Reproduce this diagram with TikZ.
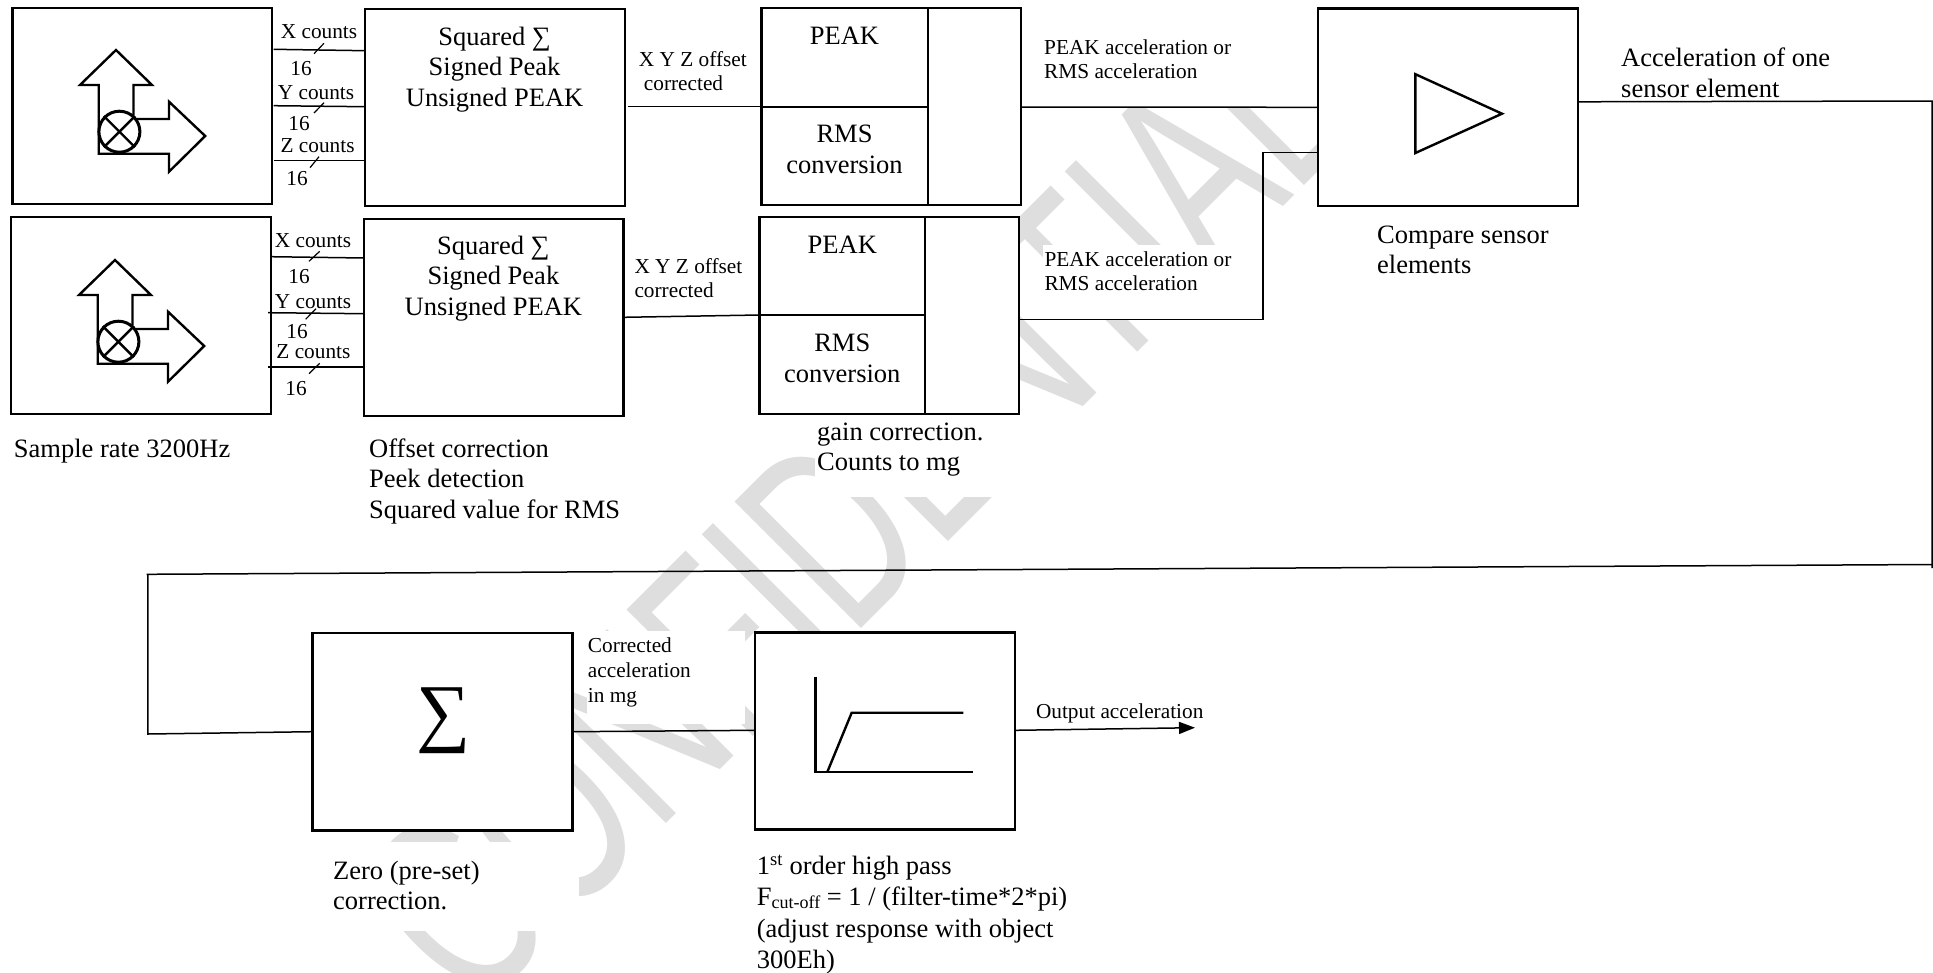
\documentclass[tikz,border=0pt]{standalone}
\usepackage{fontspec}
\usepackage{graphicx}
\usetikzlibrary{arrows.meta}
\setmainfont{Liberation Serif}
\newfontfamily\wmfont{Liberation Sans}
\newcommand{\pxbox}[6][]{%
  \pgfmathsetmacro{\bw}{#5-#3}\pgfmathsetmacro{\bh}{#6-#4}%
  \pgfmathsetmacro{\bx}{(#5+#3)/2}\pgfmathsetmacro{\by}{(#6+#4)/2}%
  \node[blockbox,minimum width=\bw pt,minimum height=\bh pt,#1] (#2) at (\bx,\by) {};}
\definecolor{wmgray}{HTML}{DEDEDE}
\tikzset{
  x=1pt,y=-1pt,
  blockbox/.style={draw=black,line width=2.4pt,fill=white,inner sep=0pt,outer sep=0pt},
  icon/.style={draw=black,line width=2.4pt,line join=miter},
  conn/.style={draw=black,line width=1.5pt},
  divider/.style={draw=black,line width=2pt},
  tick/.style={draw=black,line width=1.2pt},
  main/.style={font=\fontsize{26.5}{30.5}\selectfont,inner sep=0pt,text=black},
  small/.style={font=\fontsize{21.3}{24}\selectfont,inner sep=0pt,text=black},
  wmark/.style={font=\wmfont\fontsize{260}{260}\selectfont,text=wmgray,inner sep=0pt,rotate=45,anchor=base},
}
\begin{document}
\begin{tikzpicture}
\useasboundingbox (0,0) rectangle (1933,972);
\begin{scope}
\clip (0,0) rectangle (1933,972);
% watermark
\node[wmark] (wm) at (918.5,571.5) {\scalebox{0.658}[1]{CONFIDENTIAL}};
\end{scope}
% white backgrounds of the labels, hiding the watermark
\fill[white] (1021,0) rectangle (1318,107);
\fill[white] (1043,245) rectangle (1263,319);
\fill[white] (815,414) rectangle (1100,497);
\fill[white] (366,430) rectangle (640,530);
\fill[white] (587,631) rectangle (745,724);
\fill[white] (332,842) rectangle (579,931);
% boxes
\pxbox{s1}{12.4}{8}{272}{204}
\pxbox{p1}{365}{9}{625}{206}
\pxbox{c1}{761.5}{8}{1021}{205}
\pxbox{s2}{11.2}{216.7}{270.7}{413.7}
\pxbox{p2}{364}{218.7}{623.5}{415.7}
\pxbox{c2}{759.3}{217}{1018.7}{413.7}
\pxbox{cmp}{1318}{8.4}{1578}{206}
\pxbox{sum}{312.4}{633}{572.4}{830.3}
\pxbox{flt}{755}{632.3}{1015}{829.3}
% dividers
\draw[divider] (927.6,8) -- (927.6,205);
\draw[icon] (761.5,106.7) -- (927.6,106.7);
\draw[divider] (925.4,217) -- (925.4,413.7);
\draw[icon] (759.3,315) -- (925.4,315);
% sensor icons
\foreach \nm/\dx/\dy in {a/0/0,b/-1/210}{
\begin{scope}[shift={(\dx,\dy)}]
\draw[icon] (133.5,115) -- (133.5,85) -- (152,85) -- (116,50) -- (80,85) -- (98.7,85) -- (98.7,153.7) -- (169,153.7) -- (169,171.7) -- (205.2,136) -- (169,101.7) -- (169,119) -- (136,119);
\node[draw=black,line width=3pt,circle,minimum size=41pt,inner sep=0pt] (ic\nm) at (119.4,131.7) {};
\draw[icon] (ic\nm.45) -- (ic\nm.225) (ic\nm.135) -- (ic\nm.315);
\end{scope}}
% triangle, filter graph
\draw[icon] (1415.4,74.2) -- (1502,113.7) -- (1415.4,153) -- cycle;
\draw[icon] (815.3,676.7) -- (815.3,772) -- (973.3,772);
\draw[icon] (827.3,772) -- (851.7,712.7) -- (963.3,712.7);
% connectors row 1
\draw[conn] (273.6,49.3) -- (p1.west |- 0,50.7);
\draw[conn] (273.6,105.7) -- (p1.west |- 0,106.7);
\draw[conn] (273.6,160.3) -- (p1.west |- 0,160.3);
\draw[tick] (314,53.7) -- (324,43.3);
\draw[tick] (314,113) -- (324,102.7);
\draw[tick] (310,167.7) -- (319,156.7);
% connectors row 2
\draw[conn] (s2.east |- 0,256.7) -- (p2.west |- 0,258);
\draw[conn] (268,312.7) -- (p2.west |- 0,313.7);
\draw[conn] (268,367) -- (p2.west |- 0,367);
\draw[tick] (309,261.3) -- (319.7,251.3);
\draw[tick] (305.6,319.3) -- (316,308.7);
\draw[tick] (309,373.7) -- (319.7,363.3);
% main connectors
\draw[conn] (628,106.7) -- (c1.west |- 0,106.7);
\draw[conn] (p2.east |- 0,317.3) -- (c2.west |- 0,315);
\draw[conn] (c1.east |- 0,107) -- (cmp.west |- 0,107.3);
\draw[conn] (c2.east |- 0,319.3) -- (1263,319.3) -- (1263,152.7) -- (cmp.west |- 0,152.7);
\draw[conn] (cmp.east |- 0,101.8) -- (1932,101) -- (1932,568);
\draw[conn] (1932,564.5) -- (146.6,574.3);
\draw[conn] (147.8,574) -- (147.8,734) -- (sum.west |- 0,731.7);
\draw[conn] (sum.east |- 0,731.7) -- (flt.west |- 0,730.3);
\draw[conn,-{Triangle[length=16pt,width=12pt]}] (flt.east |- 0,730.3) -- (1195,727.7);
% row 1 text
\node[small] (xc1) at (319,32) {X counts};
\node[small] (yc1) at (316,92.7) {Y counts};
\node[small] (zc1) at (317.6,146) {Z counts};
\node[small] (n1a) at (301,68.5) {16};
\node[small] (n1b) at (299,123.5) {16};
\node[small] (n1c) at (297,178.5) {16};
\node[main,align=center] (tp1) at (494.6,69.5) {Squared ∑\\Signed Peak\\Unsigned PEAK};
\node[small,align=left,anchor=west] (xyz1) at (638.7,71) {X Y Z offset\\\hspace*{5pt}corrected};
\node[main] (pk1) at (844.5,36) {PEAK};
\node[main,align=center] (rm1) at (844.5,149.5) {RMS\\conversion};
\node[small,align=left,anchor=west] (ac1) at (1044,59.7) {PEAK acceleration or\\RMS acceleration};
% row 2 text
\node[small] (xc2) at (313,241) {X counts};
\node[small] (yc2) at (313,301.7) {Y counts};
\node[small] (zc2) at (313.4,351.5) {Z counts};
\node[small] (n2a) at (299,276.5) {16};
\node[small] (n2b) at (297,331.5) {16};
\node[small] (n2c) at (296,388.3) {16};
\node[main,align=center] (tp2) at (493.4,278.5) {Squared ∑\\Signed Peak\\Unsigned PEAK};
\node[small,align=left,anchor=west] (xyz2) at (634.3,278) {X Y Z offset\\corrected};
\node[main] (pk2) at (842.3,245) {PEAK};
\node[main,align=center] (rm2) at (842.3,358.5) {RMS\\conversion};
\node[small,align=left,anchor=west] (ac2) at (1044.3,271.3) {PEAK acceleration or\\RMS acceleration};
% captions
\node[main,anchor=west] (cap1) at (13.7,451.5) {Sample rate 3200Hz};
\node[main,align=left,anchor=west] (cap2) at (369,481) {Offset correction\\Peek detection\\Squared value for RMS};
\node[main,align=left,anchor=west] (cap3) at (817,449.7) {gain correction.\\Counts to mg};
\node[main,align=left,anchor=west] (cap4) at (1377,250) {Compare sensor\\elements};
\node[main,align=left,anchor=west] (cap5) at (1621,73) {Acceleration of one\\sensor element};
\node[font=\fontsize{26.5}{29.3}\selectfont,inner sep=0pt,align=left,anchor=west] (cap6) at (333,885.5) {Zero (pre-set)\\correction.};
\node[font=\fontsize{26.5}{31.2}\selectfont,inner sep=0pt,align=left,anchor=west] (cap7) at (756.7,914.5) {1\textsuperscript{st} order high pass\\F\raisebox{-0.2ex}{\fontsize{18}{18}\selectfont cut-off} = 1 / (filter-time*2*pi)\\(adjust response with object\\300Eh)};
\node[font=\fontsize{21.3}{25.2}\selectfont,inner sep=0pt,align=left,anchor=west] (cor) at (587.7,672.5) {Corrected\\acceleration\\in mg};
\node[small] (out) at (1119.7,713) {Output acceleration};
\node[font=\fontsize{76}{76}\selectfont,inner sep=0pt] (sg) at (443.5,721) {∑};
\end{tikzpicture}
\end{document}
